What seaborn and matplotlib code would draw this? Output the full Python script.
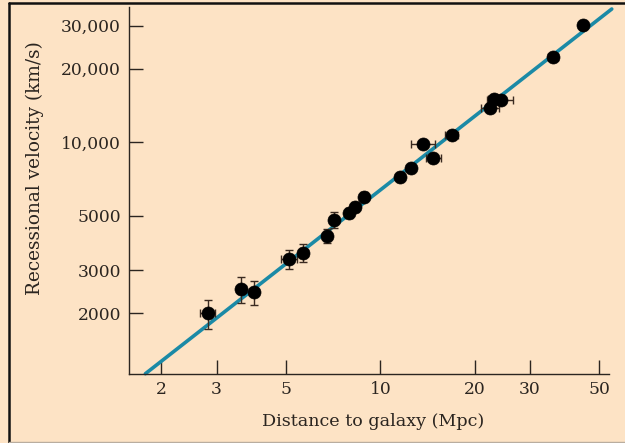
import matplotlib
matplotlib.use("Agg")
import matplotlib.pyplot as plt
import matplotlib.ticker as mticker
from matplotlib.lines import Line2D
import seaborn as sns
import pandas as pd

# ---- data ----
distance_mpc = [2.81, 3.60, 3.94, 5.12, 5.68, 6.75, 7.09, 7.97, 8.32, 8.90,
                11.57, 12.55, 13.73, 14.78, 16.92, 22.4, 23.1, 24.25, 35.7, 44.5]
velocity_kms = [2000, 2509, 2439, 3319, 3525, 4152, 4830, 5144, 5445, 5984,
                7228, 7870, 9808, 8650, 10680, 13880, 15010, 14870, 22380, 30190]
distance_err = [0.15, 0.12, 0.12, 0.30, 0.20, 0.12, 0.12, 0.15, 0.15, 0.15,
                0.25, 0.25, 1.2, 0.8, 0.8, 1.5, 1.0, 2.3, 1.3, 0.0]
velocity_err = [270, 300, 280, 290, 300, 270, 370, 250, 250, 250,
                150, 150, 0, 0, 0, 0, 0, 0, 0, 0]

fit_distance = [1.778, 54.8]
fit_velocity = [1130, 35130]

x_ticks = [2, 3, 5, 10, 20, 30, 50]
x_tick_labels = ["2", "3", "5", "10", "20", "30", "50"]
y_ticks = [2000, 3000, 5000, 10000, 20000, 30000]
y_tick_labels = ["2000", "3000", "5000", "10,000", "20,000", "30,000"]

df = pd.DataFrame({"distance": distance_mpc, "velocity": velocity_kms})
fit_df = pd.DataFrame({"distance": fit_distance, "velocity": fit_velocity})

BG = "#FDE3C5"
LINE = "#1B8AA6"
TXT = "#2b2520"

sns.set_style("ticks")
plt.rcParams["font.family"] = ["DejaVu Serif", "DejaVu Sans"]

fig = plt.figure(figsize=(6.25, 4.43), dpi=100, facecolor=BG)
ax = fig.add_axes([0.2069, 0.1564, 0.7675, 0.8278])
ax.set_facecolor(BG)

ax.set_xscale("log")
ax.set_yscale("log")

# fit line
sns.lineplot(data=fit_df, x="distance", y="velocity", ax=ax, color=LINE,
             linewidth=2.6, zorder=2, clip_on=False)

# error bars
ax.errorbar(distance_mpc, velocity_kms, xerr=distance_err, yerr=velocity_err,
            fmt="none", ecolor="#3a2a20", elinewidth=1.0, capsize=3.0,
            capthick=1.0, zorder=3)

# points
sns.scatterplot(data=df, x="distance", y="velocity", ax=ax, color="black",
                s=88, edgecolor="black", linewidth=0.5, zorder=4)

ax.set_xlim(1.58, 53.7)
ax.set_ylim(1130, 35800)

ax.xaxis.set_major_locator(mticker.FixedLocator(x_ticks))
ax.xaxis.set_major_formatter(mticker.FixedFormatter(x_tick_labels))
ax.xaxis.set_minor_locator(mticker.NullLocator())
ax.yaxis.set_major_locator(mticker.FixedLocator(y_ticks))
ax.yaxis.set_major_formatter(mticker.FixedFormatter(y_tick_labels))
ax.yaxis.set_minor_locator(mticker.NullLocator())

ax.tick_params(axis="both", which="major", direction="in", length=10,
               width=1.0, color=TXT, labelsize=12.3, labelcolor=TXT, pad=5)
ax.tick_params(axis="y", pad=6)

for s in ["top", "right"]:
    ax.spines[s].set_visible(False)
for s in ["left", "bottom"]:
    ax.spines[s].set_color(TXT)
    ax.spines[s].set_linewidth(1.0)

ax.set_xlabel("Distance to galaxy (Mpc)", fontsize=12.6, color=TXT, labelpad=11)
ax.set_ylabel("Recessional velocity (km/s)", fontsize=13.3, color=TXT, labelpad=12)
ax.xaxis.label.set_x(0.508)
ax.yaxis.label.set_y(0.56)

# figure frame (dark on left/top, faint at bottom)
W, H = 625, 443
fig.add_artist(Line2D([9 / W, 9 / W], [0, 1 - 3 / H], transform=fig.transFigure,
                      color="#111111", linewidth=1.8))
fig.add_artist(Line2D([9 / W, 1], [1 - 3 / H, 1 - 3 / H], transform=fig.transFigure,
                      color="#111111", linewidth=1.8))
fig.add_artist(Line2D([9 / W, 1], [1.2 / H, 1.2 / H], transform=fig.transFigure,
                      color="#b9ad9f", linewidth=1.0))

fig.savefig("out.png", dpi=100, facecolor=BG)
